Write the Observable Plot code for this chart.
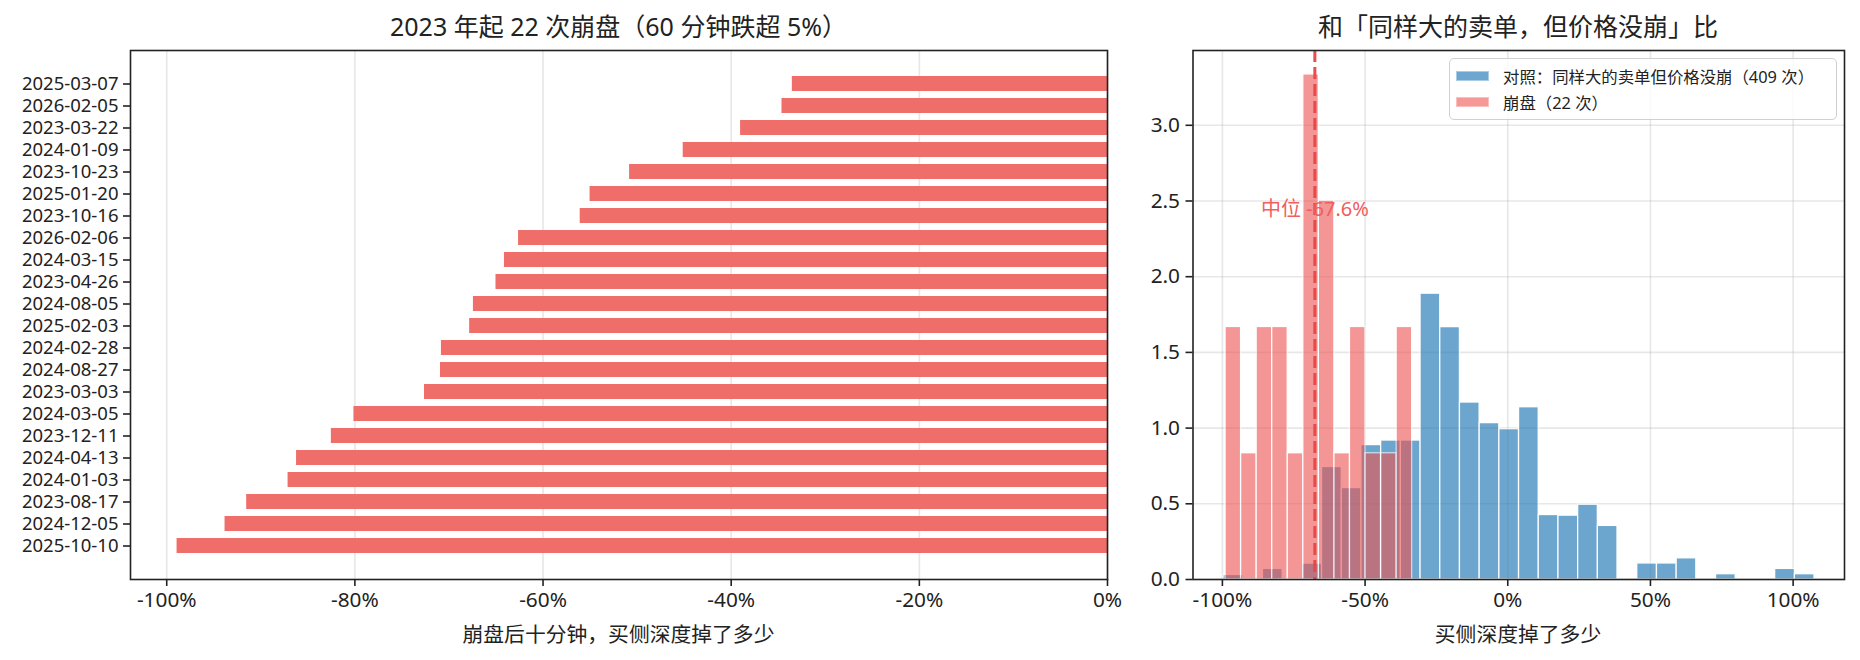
<!DOCTYPE html>
<html>
<head>
<meta charset="utf-8">
<script src="https://cdn.jsdelivr.net/npm/d3@7"></script>
<script src="https://cdn.jsdelivr.net/npm/@observablehq/plot@0.6"></script>
<style>
  body { margin: 0; background: #fff; }
  #wrap { position: relative; width: 1860px; height: 660px; background: #fff;
          font-family: 'Noto Sans', 'Noto Sans CJK SC', sans-serif; color: #222; }
  .abs { position: absolute; }
  .title { font-size: 25px; line-height: 30px; text-align: center; white-space: nowrap; }
  .xlabel { font-size: 20.8px; line-height: 26px; text-align: center; white-space: nowrap; }
  .legend { box-sizing: border-box; border: 1.3px solid #d0d0d0; border-radius: 5px; background: rgba(255,255,255,0.8); }
  .lrow { position: absolute; left: 0; height: 26px; display: flex; align-items: center; font-size: 16.4px; white-space: nowrap; }
  .patch { width: 33px; height: 10px; margin-left: 6px; margin-right: 14px; box-sizing: border-box; }
</style>
</head>
<body>
<div id="wrap">
  <div id="left" class="abs" style="left:0;top:0;width:1130px;height:660px"></div>
  <div id="right" class="abs" style="left:1130px;top:0;width:730px;height:660px"></div>
  <div class="abs title" style="left:130px;width:977px;top:11px">2023 年起 22 次崩盘（60 分钟跌超 5%）</div>
  <div class="abs title" style="left:1192px;width:652px;top:11px">和「同样大的卖单，但价格没崩」比</div>
  <div class="abs xlabel" style="left:130px;width:977px;top:621px">崩盘后十分钟，买侧深度掉了多少</div>
  <div class="abs xlabel" style="left:1192px;width:652px;top:621px">买侧深度掉了多少</div>
  <div id="legend" class="abs legend" style="left:1449px;top:58px;width:388px;height:62px"></div>
</div>
<script>
// ---------- data ----------
const crashDates = [
  "2025-03-07","2026-02-05","2023-03-22","2024-01-09","2023-10-23","2025-01-20",
  "2023-10-16","2026-02-06","2024-03-15","2023-04-26","2024-08-05","2025-02-03",
  "2024-02-28","2024-08-27","2023-03-03","2024-03-05","2023-12-11","2024-04-13",
  "2024-01-03","2023-08-17","2024-12-05","2025-10-10"
];
// buy-side depth change 10 min after crash, in %
const crashDrop = [
  -33.5, -34.6, -39.0, -45.1, -50.8, -55.0,
  -56.05, -62.6, -64.1, -65.0, -67.4, -67.8,
  -70.8, -70.9, -72.6, -80.1, -82.5, -86.2,
  -87.1, -91.5, -93.8, -98.9
];
const crashBinCount = 12;

// control group (409 events): histogram density, 30 equal bins over this range (%)
const controlRange = [-99.6, 107.5];
const controlDensity = [
  0.03, 0, 0.07, 0, 0.105, 0.743, 0.604, 0.888, 0.918, 0.918,
  1.888, 1.667, 1.169, 1.033, 0.993, 1.138, 0.426, 0.422, 0.494, 0.354,
  0, 0.106, 0.106, 0.140, 0, 0.035, 0, 0, 0.070, 0.035
];

const leftXTicks = [-100, -80, -60, -40, -20, 0];
const rightXTicks = [-100, -50, 0, 50, 100];
const rightYTicks = [0, 0.5, 1.0, 1.5, 2.0, 2.5, 3.0];

const legendLabels = ["对照：同样大的卖单但价格没崩（409 次）", "崩盘（22 次）"];
const medianPrefix = "中位 ";

// ---------- styling ----------
const FONT = "'Noto Sans', 'Noto Sans CJK SC', sans-serif";
const BLUE = "#1f77b4";
const RED = "#ee524f";
const BAR_RED = "#f06e6a";
const GRID = {stroke: "#b0b0b0", strokeOpacity: 0.3, strokeWidth: 1.6};
const pct = v => `${v}%`;

// ---------- left panel ----------
const rows = crashDates.map((d, i) => ({date: d, drop: crashDrop[i]}));

const left = Plot.plot({
  width: 1130, height: 660,
  marginLeft: 130, marginRight: 23, marginTop: 50, marginBottom: 81,
  style: {fontFamily: FONT, fontSize: "20.8px", color: "#222", background: "transparent"},
  x: {domain: [-103.85, 0], label: null},
  y: {type: "band", domain: crashDates, paddingInner: 0.3, paddingOuter: 1.085, align: 0.5, label: null},
  marks: [
    Plot.gridX(leftXTicks, GRID),
    Plot.barX(rows, {y: "date", x1: 0, x2: "drop", fill: BAR_RED}),
    Plot.frame({stroke: "#222", strokeWidth: 1.6}),
    Plot.axisX({ticks: leftXTicks, tickFormat: pct, tickSize: 7, tickPadding: 6, fontSize: 20.8, strokeWidth: 1.6, label: null}),
    Plot.axisY({tickSize: 7, tickPadding: 5, fontSize: 18.5, strokeWidth: 1.6, label: null})
  ]
});
document.getElementById("left").appendChild(left);

// ---------- right panel ----------
// crash histogram (density), 12 equal bins between min and max
const [cMin, cMax] = d3.extent(crashDrop);
const cW = (cMax - cMin) / crashBinCount;
const cCounts = new Array(crashBinCount).fill(0);
crashDrop.forEach(v => {
  const k = Math.min(crashBinCount - 1, Math.floor((v - cMin) / cW + 1e-9));
  cCounts[k]++;
});
const redBins = cCounts.map((c, i) => ({
  x1: cMin + i * cW, x2: cMin + (i + 1) * cW,
  d: c / (crashDrop.length * cW / 100)
}));

const bW = (controlRange[1] - controlRange[0]) / controlDensity.length;
const blueBins = controlDensity.map((d, i) => ({
  x1: controlRange[0] + i * bW, x2: controlRange[0] + (i + 1) * bW, d
}));

const median = d3.median(crashDrop);
const medianText = medianPrefix + median.toFixed(1) + "%";

const right = Plot.plot({
  width: 730, height: 660,
  marginLeft: 62.5, marginRight: 16, marginTop: 50, marginBottom: 81,
  style: {fontFamily: FONT, fontSize: "20.8px", color: "#222", background: "transparent"},
  x: {domain: [-110.3, 118], label: null},
  y: {domain: [0, 3.494], label: null},
  marks: [
    Plot.gridX(rightXTicks, GRID),
    Plot.gridY(rightYTicks, GRID),
    Plot.rectY(blueBins.filter(b => b.d > 0), {x1: "x1", x2: "x2", y1: 0, y2: "d", fill: BLUE, stroke: "white", strokeWidth: 1.3, opacity: 0.65}),
    Plot.rectY(redBins.filter(b => b.d > 0), {x1: "x1", x2: "x2", y1: 0, y2: "d", fill: RED, stroke: "white", strokeWidth: 1.3, opacity: 0.6}),
    Plot.ruleX([median], {stroke: "#ea4343", strokeWidth: 3, strokeDasharray: "12,5", strokeOpacity: 0.95}),
    Plot.text([median], {x: d => d, y: 2.445, text: () => medianText, fill: "#f05e5e", fontSize: 20, textAnchor: "middle"}),
    Plot.frame({stroke: "#222", strokeWidth: 1.6}),
    Plot.axisX({ticks: rightXTicks, tickFormat: pct, tickSize: 7, tickPadding: 6, fontSize: 20.8, strokeWidth: 1.6, label: null}),
    Plot.axisY({ticks: rightYTicks, tickFormat: d3.format(".1f"), tickSize: 7, tickPadding: 6, fontSize: 20.8, strokeWidth: 1.6, label: null})
  ]
});
document.getElementById("right").appendChild(right);

// ---------- legend ----------
const legend = document.getElementById("legend");
const legendColors = [
  {fill: "#6da6ce", border: "#a9cbe4"},
  {fill: "#f59896", border: "#f9c0be"}
];
legendLabels.forEach((lab, i) => {
  const row = document.createElement("div");
  row.className = "lrow";
  row.style.top = (3.5 + i * 26) + "px";
  const p = document.createElement("div");
  p.className = "patch";
  p.style.background = legendColors[i].fill;
  p.style.border = "1px solid " + legendColors[i].border;
  const t = document.createElement("span");
  t.textContent = lab;
  row.appendChild(p);
  row.appendChild(t);
  legend.appendChild(row);
});
</script>
</body>
</html>
